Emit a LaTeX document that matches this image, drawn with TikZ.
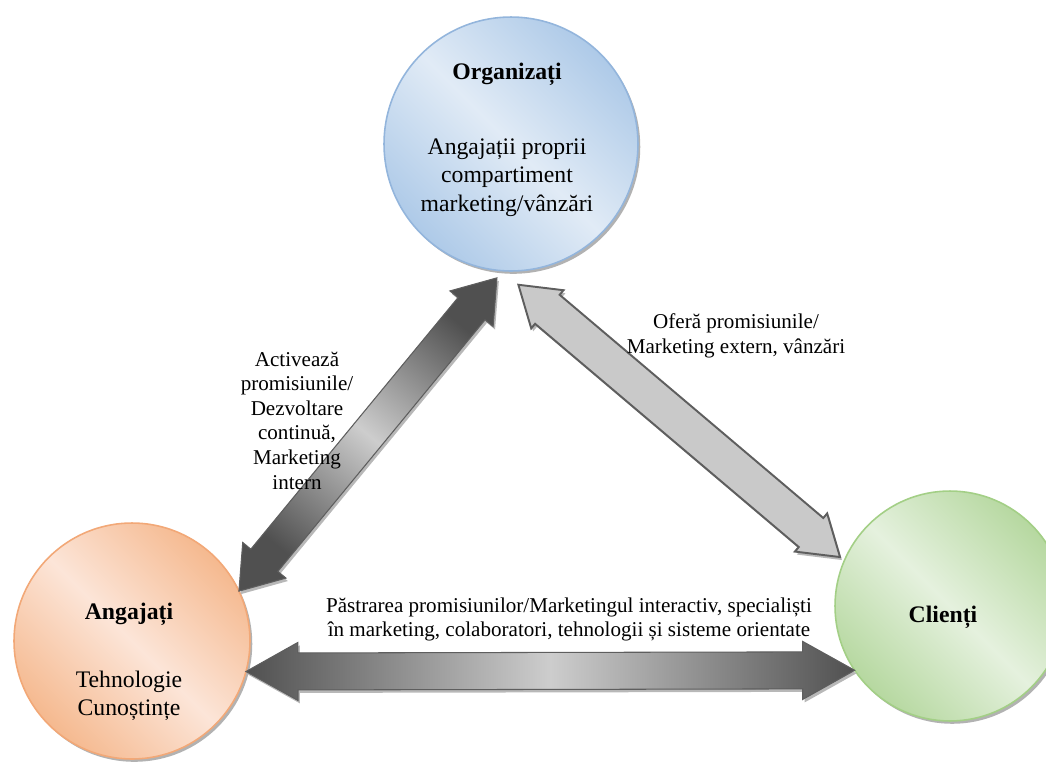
\documentclass[tikz,border=0pt]{standalone}
\usepackage{fontspec}
\setmainfont{Liberation Serif}
\usetikzlibrary{calc,shadows}

% bubble palettes
\definecolor{orgedge}{HTML}{AECAE8}
\definecolor{orglight}{HTML}{E1EBF6}
\definecolor{orgline}{HTML}{93B5DC}
\definecolor{angedge}{HTML}{F5B98F}
\definecolor{anglight}{HTML}{FCE5D8}
\definecolor{angline}{HTML}{F2A877}
\definecolor{cliedge}{HTML}{B6D8A0}
\definecolor{clilight}{HTML}{E5F1DE}
\definecolor{cliline}{HTML}{A3CF86}
% connector greys
\definecolor{arrdark}{HTML}{505050}
\definecolor{arrmid}{HTML}{CDCDCD}
\definecolor{arrline}{HTML}{5E5E5E}
\definecolor{arrflat}{HTML}{C9C9C9}

\tikzset{
  bubble/.style={circle, inner sep=0pt, outer sep=0pt, line width=0.9pt,
    drop shadow={shadow xshift=1.3pt, shadow yshift=-1.6pt, fill=black!60, opacity=0.5}},
  orgbubble/.style={bubble, draw=orgline, top color=orgedge, bottom color=orgedge,
    middle color=orglight, shading angle=-45},
  angbubble/.style={bubble, draw=angline, top color=angedge, bottom color=angedge,
    middle color=anglight, shading angle=-45},
  clibubble/.style={bubble, draw=cliline, top color=cliedge, bottom color=cliedge,
    middle color=clilight, shading angle=-45},
  bubbletext/.style={align=center, inner sep=0pt, font=\fontsize{13.5}{16}\selectfont},
  linklabel/.style={align=center, inner sep=0pt, font=\fontsize{12}{14}\selectfont},
  arrowshadow/.style={drop shadow={shadow xshift=1.1pt, shadow yshift=-1.7pt, fill=black!28, opacity=1}},
  darkarrow/.style={arrowshadow, draw=arrline, line width=0.6pt, line join=miter,
    top color=arrdark, bottom color=arrdark, middle color=arrmid, shading angle=#1},
  lightarrow/.style={arrowshadow, draw=arrline, line width=1.1pt, line join=miter, fill=arrflat}
}

% double-headed block arrow between two points:
% #1,#2 tips, #3 head length, #4 head half-width, #5 shaft half-width, #6 style
\newcommand\blockarrow[6]{%
  \draw[#6] (#1)
    -- ($(#1)!#3!(#2)!#4!90:(#2)$)
    -- ($(#1)!#3!(#2)!#5!90:(#2)$)
    -- ($(#2)!#3!(#1)!#5!-90:(#1)$)
    -- ($(#2)!#3!(#1)!#4!-90:(#1)$)
    -- (#2)
    -- ($(#2)!#3!(#1)!#4!90:(#1)$)
    -- ($(#2)!#3!(#1)!#5!90:(#1)$)
    -- ($(#1)!#3!(#2)!#5!-90:(#2)$)
    -- ($(#1)!#3!(#2)!#4!-90:(#2)$)
    -- cycle;}

\begin{document}
\begin{tikzpicture}[x=0.02cm, y=-0.02cm]
  \clip (0,0) rectangle (1046,762);

  % the three parties
  \node[orgbubble, minimum size=5.08cm] (org) at (511,144) {};
  \node[angbubble, minimum size=4.72cm] (ang) at (132,641) {};
  \node[clibubble, minimum size=4.6cm]  (cli) at (950,606) {};

  % arrow end points on the bubbles
  \coordinate (la) at (ang.25);
  \coordinate (lb) at ($(org.center)!1.06!(org.264)$);
  \coordinate (ra) at ($(org.center)!1.11!(org.273.7)$);
  \coordinate (rb) at ($(cli.center)!1.047!(cli.156)$);
  \coordinate (ba) at (ang.-15);
  \coordinate (bb) at (cli.214.5);

  % connectors
  \blockarrow{la}{lb}{0.8cm}{0.56cm}{0.35cm}{darkarrow=-39.5}
  \blockarrow{ra}{rb}{0.76cm}{0.5cm}{0.38cm}{lightarrow}
  \blockarrow{ba}{bb}{1.04cm}{0.58cm}{0.37cm}{darkarrow=90}

  % bubble texts
  \node[bubbletext] (orgtext) at (507,139.5)
    {\textbf{Organizați}\\[27pt]Angajații proprii\\compartiment\\marketing/vânzări};
  \node[bubbletext] (angtext) at (129,662)
    {\textbf{Angajați}\\[22.7pt]Tehnologie\\Cunoștințe};
  \node[bubbletext] (clitext) at (943,617) {\textbf{Clienți}};

  % connector labels
  \node[linklabel] (lefttext) at (297,420.5)
    {Activează\\promisiunile/\\Dezvoltare\\continuă,\\Marketing\\intern};
  \node[linklabel] (righttext) at (736,336)
    {Oferă promisiunile/\\Marketing extern, vânzări};
  \node[linklabel] (bottomtext) at (569,619.5)
    {Păstrarea promisiunilor/Marketingul interactiv, specialiști\\în marketing, colaboratori, tehnologii și sisteme orientate};
\end{tikzpicture}
\end{document}
